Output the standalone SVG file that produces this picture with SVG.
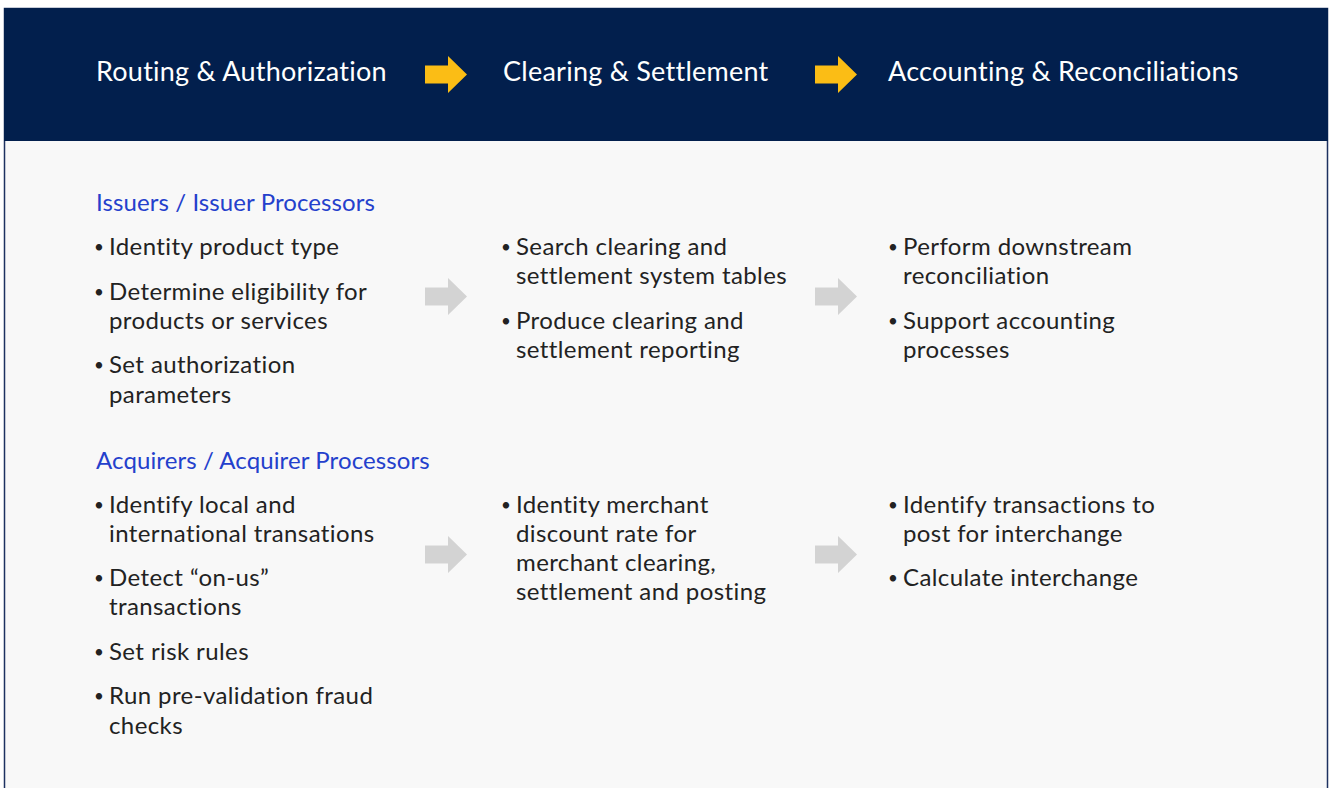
<svg xmlns="http://www.w3.org/2000/svg" width="1330" height="788" viewBox="0 0 1330 788">
  <style>
    .hd { font-family: Lato, "Open Sans", sans-serif; font-size: 27px; letter-spacing: 0.25px; fill: #ffffff; }
    .sec { font-family: Lato, "Open Sans", sans-serif; font-size: 24px; letter-spacing: 0.1px; fill: #2440cc; }
    .t { font-family: Lato, "Open Sans", sans-serif; font-size: 24px; letter-spacing: 0.4px; fill: #222222; }
    .b { font-family: Lato, "Open Sans", sans-serif; font-size: 17px; fill: #222222; text-anchor: middle; }
    .yarr { fill: #fbbd15; }
    .garr { fill: #d3d3d3; }
  </style>
  <defs>
    <polygon id="arr" points="0,-9 23,-9 23,-18.5 42,0 23,18.5 23,9 0,9"/>
  </defs>
  <rect x="0" y="0" width="1330" height="788" fill="#ffffff"/>
  <rect x="4.5" y="8.5" width="1323" height="790" fill="#f8f8f8" stroke="#1d3160" stroke-width="1.5"/>
  <rect x="4" y="8" width="1324" height="133" fill="#021f4d"/>

  <g id="stage-routing"><text class="hd" x="96" y="81">Routing &amp; Authorization</text></g>
  <g id="stage-clearing"><text class="hd" x="503" y="81">Clearing &amp; Settlement</text></g>
  <g id="stage-accounting"><text class="hd" x="888" y="81">Accounting &amp; Reconciliations</text></g>

  <g id="connectors">
    <use href="#arr" class="yarr" x="425" y="74.5"/>
    <use href="#arr" class="yarr" x="815" y="74.5"/>
    <use href="#arr" class="garr" x="425" y="296.5"/>
    <use href="#arr" class="garr" x="815" y="296.5"/>
    <use href="#arr" class="garr" x="425" y="554.5"/>
    <use href="#arr" class="garr" x="815" y="554.5"/>
  </g>

  <g id="issuers-routing">
    <text class="sec" x="96" y="211">Issuers / Issuer Processors</text>
    <text class="b" x="99" y="253">•</text><text class="t" x="109" y="255">Identity product type</text>
    <text class="b" x="99" y="298">•</text><text class="t" x="109" y="300">Determine eligibility for</text>
    <text class="t" x="109" y="329">products or services</text>
    <text class="b" x="99" y="371">•</text><text class="t" x="109" y="373">Set authorization</text>
    <text class="t" x="109" y="403">parameters</text>
  </g>
  <g id="issuers-clearing">
    <text class="b" x="506" y="253">•</text><text class="t" x="516" y="255">Search clearing and</text>
    <text class="t" x="516" y="284">settlement system tables</text>
    <text class="b" x="506" y="327">•</text><text class="t" x="516" y="329">Produce clearing and</text>
    <text class="t" x="516" y="358">settlement reporting</text>
  </g>
  <g id="issuers-accounting">
    <text class="b" x="893" y="253">•</text><text class="t" x="903" y="255">Perform downstream</text>
    <text class="t" x="903" y="284">reconciliation</text>
    <text class="b" x="893" y="327">•</text><text class="t" x="903" y="329">Support accounting</text>
    <text class="t" x="903" y="358">processes</text>
  </g>

  <g id="acquirers-routing">
    <text class="sec" x="96" y="469">Acquirers / Acquirer Processors</text>
    <text class="b" x="99" y="511">•</text><text class="t" x="109" y="513">Identify local and</text>
    <text class="t" x="109" y="542">international transations</text>
    <text class="b" x="99" y="584">•</text><text class="t" x="109" y="586">Detect “on-us”</text>
    <text class="t" x="109" y="615">transactions</text>
    <text class="b" x="99" y="658">•</text><text class="t" x="109" y="660">Set risk rules</text>
    <text class="b" x="99" y="702">•</text><text class="t" x="109" y="704">Run pre-validation fraud</text>
    <text class="t" x="109" y="734">checks</text>
  </g>
  <g id="acquirers-clearing">
    <text class="b" x="506" y="511">•</text><text class="t" x="516" y="513">Identity merchant</text>
    <text class="t" x="516" y="542">discount rate for</text>
    <text class="t" x="516" y="571">merchant clearing,</text>
    <text class="t" x="516" y="600">settlement and posting</text>
  </g>
  <g id="acquirers-accounting">
    <text class="b" x="893" y="511">•</text><text class="t" x="903" y="513">Identify transactions to</text>
    <text class="t" x="903" y="542">post for interchange</text>
    <text class="b" x="893" y="584">•</text><text class="t" x="903" y="586">Calculate interchange</text>
  </g>
</svg>
